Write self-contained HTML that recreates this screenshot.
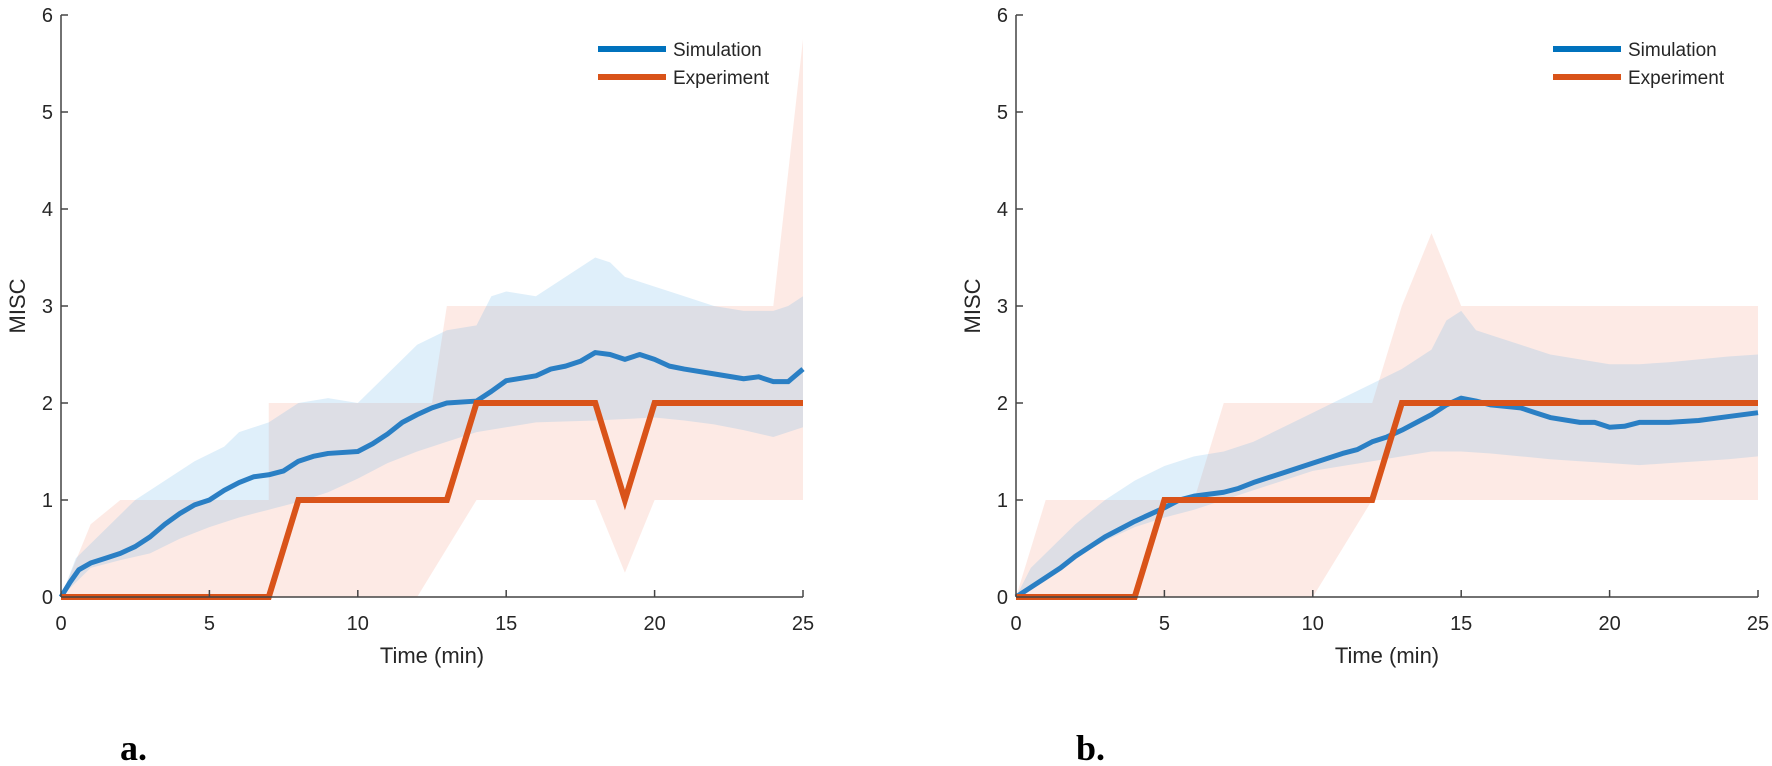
<!DOCTYPE html>
<html><head><meta charset="utf-8"><style>
html,body{margin:0;padding:0;background:#fff;}
svg{display:block;font-family:"Liberation Sans",Arial,sans-serif;}
</style></head><body>
<svg width="1772" height="766" viewBox="0 0 1772 766" xmlns="http://www.w3.org/2000/svg">
<defs>
<g id="axes">
  <line x1="0" y1="0" x2="742" y2="0" stroke="#444" stroke-width="1.5"/>
  <line x1="0" y1="0" x2="0" y2="-582" stroke="#444" stroke-width="1.5"/>
  <g stroke="#444" stroke-width="1.5">
    <line x1="0" y1="-97" x2="7" y2="-97"/><line x1="0" y1="-194" x2="7" y2="-194"/>
    <line x1="0" y1="-291" x2="7" y2="-291"/><line x1="0" y1="-388" x2="7" y2="-388"/>
    <line x1="0" y1="-485" x2="7" y2="-485"/><line x1="0" y1="-582" x2="7" y2="-582"/>
    <line x1="148.4" y1="0" x2="148.4" y2="-7"/><line x1="296.8" y1="0" x2="296.8" y2="-7"/>
    <line x1="445.2" y1="0" x2="445.2" y2="-7"/><line x1="593.6" y1="0" x2="593.6" y2="-7"/>
    <line x1="742" y1="0" x2="742" y2="-7"/>
  </g>
  <g font-size="20" fill="#262626" text-anchor="end">
    <text x="-8" y="7">0</text><text x="-8" y="-90">1</text><text x="-8" y="-187">2</text>
    <text x="-8" y="-284">3</text><text x="-8" y="-381">4</text><text x="-8" y="-478">5</text><text x="-8" y="-575">6</text>
  </g>
  <g font-size="20" fill="#262626" text-anchor="middle">
    <text x="0" y="33">0</text><text x="148.4" y="33">5</text><text x="296.8" y="33">10</text>
    <text x="445.2" y="33">15</text><text x="593.6" y="33">20</text><text x="742" y="33">25</text>
    <text x="371" y="66" font-size="22">Time (min)</text>
  </g>
  <text transform="translate(-36,-291) rotate(-90)" font-size="22" fill="#262626" text-anchor="middle">MISC</text>
  <line x1="537" y1="-548" x2="605" y2="-548" stroke="#0072bd" stroke-width="6"/>
  <text x="612" y="-541" font-size="19" fill="#262626">Simulation</text>
  <line x1="537" y1="-520" x2="605" y2="-520" stroke="#d95319" stroke-width="6"/>
  <text x="612" y="-513" font-size="19" fill="#262626">Experiment</text>
</g>
</defs>

<g transform="translate(61,597)">
  <g transform="scale(29.68,-97)">
    <polygon fill="#f4a088" fill-opacity="0.22" points="0,0 1,0.75 2,1 7,1 7,2 12.5,2 13,3 24,3 25,5.75 25,1 20,1 19,0.25 18,1 14,1 12,0 0,0"/>
    <polygon fill="#6fb6e6" fill-opacity="0.22" points="0,0 0.5,0.4 1.5,0.7 2.5,1 3.5,1.2 4.5,1.4 5.5,1.55 6,1.7 7,1.8 8,2 9,2.05 10,2 11,2.3 12,2.6 13,2.75 14,2.8 14.5,3.1 15,3.15 16,3.1 17,3.3 18,3.5 18.5,3.45 19,3.3 20,3.2 21,3.1 22,3.0 23,2.95 24,2.95 24.5,3.0 25,3.1 25,1.75 24,1.65 23,1.72 22,1.78 21,1.82 20,1.85 18,1.82 16,1.8 15,1.75 14,1.7 13,1.6 12,1.5 11,1.38 10,1.22 9,1.08 8,0.98 7,0.9 6,0.82 5,0.72 4,0.6 3,0.45 2,0.38 1,0.3 0.5,0.15"/>
    <polyline fill="none" stroke="#2a7fc4" stroke-width="5" vector-effect="non-scaling-stroke" stroke-linejoin="round" points="0,0 0.3,0.15 0.6,0.28 1,0.35 1.5,0.4 2,0.45 2.5,0.52 3,0.62 3.5,0.75 4,0.86 4.5,0.95 5,1.0 5.5,1.1 6,1.18 6.5,1.24 7,1.26 7.5,1.3 8,1.4 8.5,1.45 9,1.48 10,1.5 10.5,1.58 11,1.68 11.5,1.8 12,1.88 12.5,1.95 13,2.0 14,2.02 14.5,2.12 15,2.23 16,2.28 16.5,2.35 17,2.38 17.5,2.43 18,2.52 18.5,2.5 19,2.45 19.5,2.5 20,2.45 20.5,2.38 21,2.35 22,2.3 23,2.25 23.5,2.27 24,2.22 24.5,2.22 25,2.35"/>
    <polyline fill="none" stroke="#d95319" stroke-width="6" vector-effect="non-scaling-stroke" points="0,0 7,0 8,1 13,1 14,2 18,2 19,1 20,2 25,2"/>
  </g>
  <use href="#axes"/>
</g>

<g transform="translate(1016,597)">
  <g transform="scale(29.68,-97)">
    <polygon fill="#f4a088" fill-opacity="0.22" points="0,0 1,1 6,1 7,2 12,2 13,3 14,3.75 15,3 25,3 25,1 12,1 10,0 0,0"/>
    <polygon fill="#6fb6e6" fill-opacity="0.22" points="0,0 0.5,0.3 1,0.45 2,0.75 3,1.0 4,1.2 5,1.35 6,1.45 7,1.5 8,1.6 9,1.75 10,1.9 11,2.05 12,2.2 13,2.35 14,2.55 14.5,2.85 15,2.95 15.5,2.75 16,2.7 17,2.6 18,2.5 19,2.45 20,2.4 21,2.4 22,2.42 23,2.45 24,2.48 25,2.5 25,1.45 24,1.42 23,1.4 22,1.38 21,1.36 20,1.38 19,1.4 18,1.42 17,1.45 16,1.48 15,1.5 14,1.5 13,1.45 12,1.4 11,1.35 10,1.3 9,1.2 8,1.1 7,1.0 6,0.9 5,0.82 4,0.72 3,0.58 2,0.42 1,0.22 0.5,0.1"/>
    <polyline fill="none" stroke="#2a7fc4" stroke-width="5" vector-effect="non-scaling-stroke" stroke-linejoin="round" points="0,0 0.5,0.1 1,0.2 1.5,0.3 2,0.42 2.5,0.52 3,0.62 3.5,0.7 4,0.78 4.5,0.85 5,0.92 5.5,1.0 6,1.04 7,1.08 7.5,1.12 8,1.18 9,1.28 10,1.38 11,1.48 11.5,1.52 12,1.6 12.5,1.65 13,1.72 13.5,1.8 14,1.88 14.5,1.98 15,2.05 15.5,2.02 16,1.98 17,1.95 17.5,1.9 18,1.85 19,1.8 19.5,1.8 20,1.75 20.5,1.76 21,1.8 22,1.8 23,1.82 24,1.86 25,1.9"/>
    <polyline fill="none" stroke="#d95319" stroke-width="6" vector-effect="non-scaling-stroke" points="0,0 4,0 5,1 12,1 13,2 25,2"/>
  </g>
  <use href="#axes"/>
</g>

<text x="120" y="760" font-family="'Liberation Serif',serif" font-weight="bold" font-size="36" fill="#000">a.</text>
<text x="1076" y="760" font-family="'Liberation Serif',serif" font-weight="bold" font-size="36" fill="#000">b.</text>
</svg>
</body></html>
